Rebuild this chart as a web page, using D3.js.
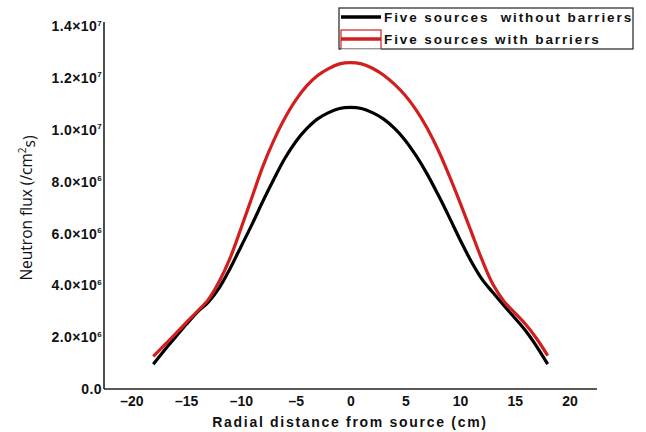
<!DOCTYPE html>
<html><head><meta charset="utf-8">
<script src="https://cdn.jsdelivr.net/npm/d3@7"></script>
<style>body{margin:0;background:#fff}svg{display:block}</style>
</head><body><svg id="c" width="646" height="432"></svg>
<script>
const radius = [-18,-17,-16,-15,-14,-13,-12,-11,-10,-9,-8,-7,-6,-5,-4,-3,-2,-1,0,1,2,3,4,5,6,7,8,9,10,11,12,13,14,15,16,17,18];
const withoutBarriers = [0.92,1.45,1.95,2.45,2.92,3.3,3.85,4.6,5.45,6.3,7.2,8.05,8.85,9.5,10.0,10.38,10.62,10.78,10.82,10.78,10.62,10.38,10.02,9.55,8.95,8.25,7.45,6.6,5.72,4.9,4.2,3.68,3.18,2.7,2.2,1.6,0.92];
const withBarriers = [1.22,1.65,2.08,2.52,2.95,3.4,4.1,5.0,6.15,7.35,8.55,9.55,10.4,11.1,11.65,12.05,12.32,12.5,12.55,12.5,12.33,12.07,11.72,11.28,10.72,10.02,9.18,8.2,7.15,6.05,4.95,4.0,3.35,2.9,2.45,1.9,1.25];
const yTicks = [0,2e6,4e6,6e6,8e6,1e7,1.2e7,1.4e7];
const xTicks = [-20,-15,-10,-5,0,5,10,15,20];
const seriesNames = ["Five sources  without barriers","Five sources with barriers"];
const colors = ["#000000","#d11f1f"];

const svg = d3.select("#c");
const x = d3.scaleLinear().domain([-22.5,22.5]).range([104,597]);
const y = d3.scaleLinear().domain([0,1.4e7]).range([388,25]);

// axes
const xAxis = svg.append("g").attr("transform","translate(0,389)")
  .call(d3.axisBottom(x).tickValues(xTicks).tickSize(0).tickPadding(4)
  .tickFormat(d => d < 0 ? "\u2013" + Math.abs(d) : String(d)));
xAxis.select(".domain").attr("stroke","#222").attr("stroke-width",1.6).attr("d","M104,0H597");
xAxis.selectAll("text").attr("font-family","Liberation Sans, Arial, sans-serif")
  .attr("font-weight","bold").attr("font-size",14).attr("fill","#111").attr("dy","0.95em");

const yAxis = svg.append("g").attr("transform","translate(104,0)")
  .call(d3.axisLeft(y).tickValues(yTicks).tickSize(0).tickPadding(4).tickFormat(""));
yAxis.select(".domain").attr("stroke","#222").attr("stroke-width",1.6).attr("d","M0,22V389");
yAxis.selectAll(".tick").each(function(d){
  const t = d3.select(this).select("text")
    .attr("font-family","Liberation Sans, Arial, sans-serif")
    .attr("font-weight","bold").attr("font-size",14).attr("fill","#111")
    .attr("letter-spacing",0.4)
    .attr("x",-2).attr("dy","0.4em").attr("text-anchor","end");
  if (d === 0) { t.text("0.0"); return; }
  const exp = d >= 1e7 ? 7 : 6;
  const mant = (d / Math.pow(10, exp)).toFixed(1);
  t.text(null);
  t.append("tspan").text(mant + "\u00d710");
  t.append("tspan").attr("font-size",8).attr("dy","-0.7em").text(exp);
});

// axis titles
svg.append("text").attr("x",350).attr("y",427).attr("text-anchor","middle")
  .attr("font-family","Liberation Sans, Arial, sans-serif").attr("font-weight","bold")
  .attr("font-size",14).attr("letter-spacing",1.7).attr("fill","#111")
  .text("Radial distance from source (cm)");
const yt = svg.append("text").attr("transform","translate(32,208) rotate(-90)")
  .attr("text-anchor","middle").attr("font-family","Open Sans, Liberation Sans, sans-serif")
  .attr("font-size",15.5).attr("fill","#111");
yt.append("tspan").text("Neutron flux (/cm");
yt.append("tspan").attr("font-size",10).attr("dy","-0.6em").text("2");
yt.append("tspan").attr("dy","0.6em").text("s)");

// lines
const line = d3.line().x((d,i)=>x(radius[i])).y(d=>y(d*1e6)).curve(d3.curveCatmullRom.alpha(0.5));
[withoutBarriers, withBarriers].forEach((s,k)=>{
  svg.append("path").datum(s).attr("d",line).attr("fill","none")
    .attr("stroke",colors[k]).attr("stroke-width",3.2).attr("stroke-linecap","butt");
});

// legend
const lg = svg.append("g");
lg.append("rect").attr("x",339).attr("y",8).attr("width",294).attr("height",41)
  .attr("fill","#fff").attr("stroke","#222").attr("stroke-width",1.2);
lg.append("line").attr("x1",341).attr("x2",381).attr("y1",17).attr("y2",17)
  .attr("stroke",colors[0]).attr("stroke-width",3.5);
lg.append("rect").attr("x",341).attr("y",30).attr("width",40).attr("height",19)
  .attr("fill","#fff").attr("stroke",colors[1]).attr("stroke-width",1.2);
lg.append("line").attr("x1",341).attr("x2",381).attr("y1",39).attr("y2",39)
  .attr("stroke",colors[1]).attr("stroke-width",3.5);
lg.append("line").attr("x1",341).attr("x2",381).attr("y1",49.5).attr("y2",49.5)
  .attr("stroke","#8ff4f4").attr("stroke-width",1.2);
seriesNames.forEach((n,i)=>{
  lg.append("text").attr("x",384).attr("y",i===0?21.5:44)
    .attr("font-family","Liberation Sans, Arial, sans-serif").attr("font-weight","bold")
    .attr("font-size",13.5).attr("letter-spacing",1.9).attr("fill","#111")
    .attr("xml:space","preserve").style("white-space","pre").text(n);
});
</script></body></html>
